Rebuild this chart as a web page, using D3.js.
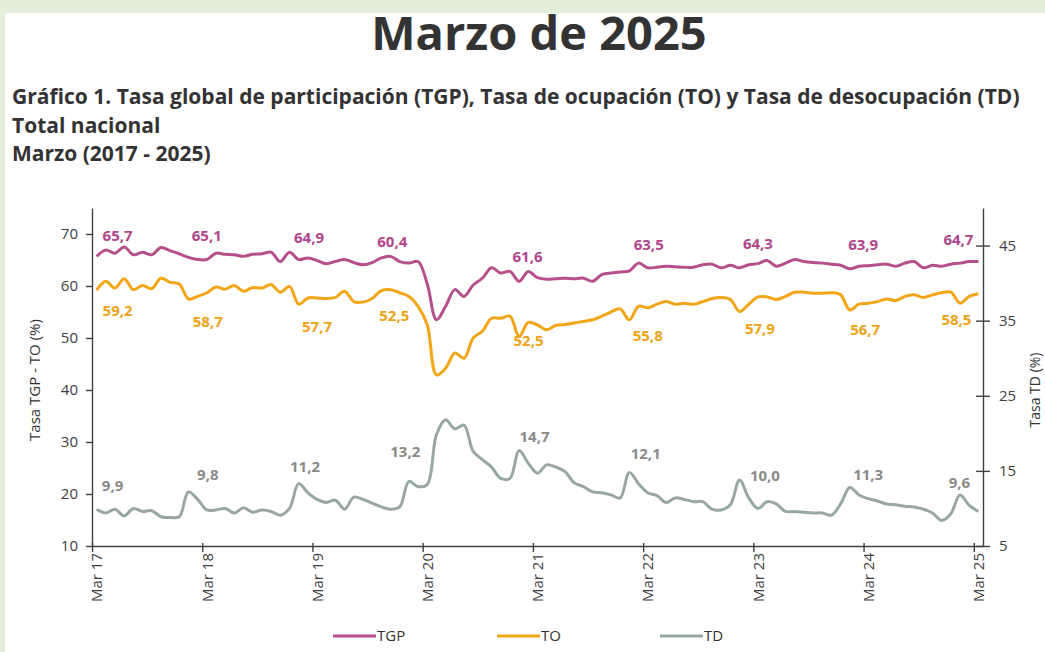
<!DOCTYPE html>
<html lang="es">
<head>
<meta charset="utf-8">
<script src="https://cdn.jsdelivr.net/npm/d3@7"></script>
<style>
  html, body { margin: 0; padding: 0; background: #fff; }
  svg { display: block; font-family: "Open Sans", "Noto Sans", sans-serif; }
</style>
</head>
<body>
<svg id="chart" width="1045" height="652"></svg>
<script>
// monthly series, Mar 2017 .. Mar 2025
const xTickLabels = ['Mar 17', 'Mar 18', 'Mar 19', 'Mar 20', 'Mar 21', 'Mar 22', 'Mar 23', 'Mar 24', 'Mar 25'];

const tgp = [
  65.7, 66.9, 66.3, 67.5, 66.0, 66.5, 66.0, 67.4, 66.8, 66.2, 65.5, 65.1,
  65.1, 66.3, 66.1, 66.0, 65.7, 66.1, 66.2, 66.5, 64.7, 66.5, 65.1, 65.4,
  64.9, 64.3, 64.7, 65.1, 64.5, 64.1, 64.5, 65.4, 65.7, 64.7, 64.4, 64.7,
  60.4, 53.5, 56.1, 59.3, 58.0, 60.2, 61.5, 63.5, 62.5, 62.8, 60.9, 62.8,
  61.6, 61.3, 61.4, 61.5, 61.4, 61.5, 60.9, 62.2, 62.5, 62.7, 62.9, 64.4,
  63.5, 63.6, 63.8, 63.7, 63.6, 63.6, 64.1, 64.2, 63.5, 64.0, 63.5, 64.1,
  64.3, 64.9, 63.8, 64.4, 65.1, 64.7, 64.5, 64.4, 64.2, 64.0, 63.3, 63.8,
  63.9, 64.1, 64.2, 63.8, 64.4, 64.7, 63.5, 64.0, 63.8, 64.2, 64.4, 64.7,
  64.7
];

const to = [
  59.2, 60.9, 59.6, 61.4, 59.3, 60.1, 59.5, 61.5, 60.7, 60.4, 57.5, 58.0,
  58.7, 59.8, 59.4, 60.1, 59.0, 59.7, 59.6, 60.3, 58.8, 59.9, 56.5, 57.7,
  57.7, 57.6, 57.8, 59.0, 57.0, 56.9, 57.6, 59.1, 59.3, 58.7, 58.0, 56.1,
  52.5, 42.9, 44.2, 47.1, 46.1, 50.0, 51.3, 53.8, 53.8, 54.2, 50.3, 53.0,
  52.5, 51.6, 52.4, 52.6, 52.9, 53.2, 53.5, 54.2, 55.0, 55.6, 53.5, 56.1,
  55.8, 56.5, 57.0, 56.5, 56.7, 56.5, 57.0, 57.6, 57.8, 57.4, 55.1, 56.5,
  57.9, 57.9, 57.4, 58.0, 58.8, 58.8, 58.6, 58.6, 58.7, 58.3, 55.4, 56.5,
  56.7, 57.0, 57.5, 57.2, 58.0, 58.3, 57.8, 58.3, 58.7, 58.8, 56.7, 58.0,
  58.5
];

const td = [
  9.9, 9.4, 9.9, 9.0, 10.0, 9.6, 9.7, 8.9, 8.8, 8.9, 12.2, 11.2,
  9.8, 9.8, 10.0, 9.4, 10.1, 9.5, 9.8, 9.6, 9.1, 10.0, 13.3, 12.1,
  11.2, 10.8, 11.1, 9.9, 11.5, 11.2, 10.7, 10.2, 9.9, 10.2, 13.6, 12.9,
  13.2, 19.8, 21.8, 20.6, 21.1, 17.6, 16.5, 15.5, 14.0, 14.0, 17.7, 16.0,
  14.7, 15.8, 15.5, 14.9, 13.4, 12.9, 12.2, 12.1, 11.8, 11.4, 14.8, 13.3,
  12.1, 11.7, 10.8, 11.4, 11.2, 10.9, 10.9, 9.9, 9.8, 10.5, 13.8, 11.4,
  10.0, 10.9, 10.6, 9.6, 9.6, 9.5, 9.4, 9.4, 9.1, 10.6, 12.8, 11.8,
  11.3, 11.0, 10.6, 10.5, 10.3, 10.2, 9.9, 9.4, 8.4, 9.3, 11.8, 10.4,
  9.6
];

const leftTicks = [10, 20, 30, 40, 50, 60, 70];
const rightTicks = [5, 15, 25, 35, 45];
const labelStep = 12;

const svg = d3.select('#chart');
const W = 1045, H = 652;
const plot = { left: 92, right: 983, top: 208, bottom: 546 };
const axisColor = '#404040';
const textColor = '#333333';

// page frame
svg.append('rect').attr('width', W).attr('height', H).attr('fill', '#ffffff');
svg.append('rect').attr('width', W).attr('height', 13).attr('fill', '#e2efda');
svg.append('rect').attr('width', 5).attr('height', H).attr('fill', '#e2efda');

svg.append('text')
  .attr('x', 539).attr('y', 50)
  .attr('text-anchor', 'middle')
  .attr('font-size', 47).attr('font-weight', 700)
  .attr('fill', textColor)
  .text('Marzo de 2025');

const subLines = [
  'Gráfico 1. Tasa global de participación (TGP), Tasa de ocupación (TO) y Tasa de desocupación (TD)',
  'Total nacional',
  'Marzo (2017 - 2025)'
];
subLines.forEach((s, k) => {
  svg.append('text')
    .attr('x', 12).attr('y', 104 + k * 28.5)
    .attr('font-size', 21).attr('font-weight', 700)
    .attr('fill', textColor)
    .text(s);
});

// scales
const n = tgp.length;
const xb = d3.scaleBand().domain(d3.range(n)).range([plot.left, plot.right]);
const bw = xb.bandwidth();
const cx = i => xb(i) + bw / 2;
const xt = d3.scaleLinear().domain([0, n]).range([plot.left, plot.right]);
const yL = d3.scaleLinear().domain([10, 75]).range([plot.bottom, plot.top]);
const yR = d3.scaleLinear().domain([5, 50]).range([plot.bottom, plot.top]);

function styleAxis(g) {
  g.select('.domain').attr('stroke', axisColor).attr('stroke-width', 1.4);
  g.selectAll('.tick line').attr('stroke', axisColor).attr('stroke-width', 1.4);
  g.selectAll('.tick text').attr('fill', '#404040').attr('font-size', 15)
    .attr('font-family', '"Open Sans", "Noto Sans", sans-serif');
}

const gL = svg.append('g')
  .attr('transform', `translate(${plot.left},0)`)
  .call(d3.axisLeft(yL).tickValues(leftTicks).tickSize(6).tickSizeOuter(0).tickPadding(8));
styleAxis(gL);

const gR = svg.append('g')
  .attr('transform', `translate(${plot.right},0)`)
  .call(d3.axisRight(yR).tickValues(rightTicks).tickSize(7).tickSizeOuter(0).tickPadding(9));
styleAxis(gR);
gR.selectAll('.tick line').attr('x1', -7).attr('x2', 7);

const xTickIdx = xTickLabels.map((_, k) => k * labelStep);
const gX = svg.append('g')
  .attr('transform', `translate(0,${plot.bottom})`)
  .call(d3.axisBottom(xt).tickValues(xTickIdx).tickFormat((d, k) => xTickLabels[k]).tickSizeOuter(0));
styleAxis(gX);
gX.selectAll('.tick line').attr('y1', -3).attr('y2', 6);
gX.selectAll('.tick text')
  .attr('transform', 'rotate(-90)')
  .attr('x', -7).attr('y', bw / 2).attr('dy', '0.35em')
  .style('text-anchor', 'end');

// axis titles
svg.append('text')
  .attr('transform', 'translate(40,380) rotate(-90)')
  .attr('text-anchor', 'middle')
  .attr('font-size', 15).attr('fill', textColor)
  .text('Tasa TGP - TO (%)');
svg.append('text')
  .attr('transform', 'translate(1040,390) rotate(-90)')
  .attr('text-anchor', 'middle')
  .attr('font-size', 14).attr('fill', textColor)
  .text('Tasa TD (%)');

// series
const series = [
  { name: 'TGP', values: tgp, y: yL, color: '#b5508a', labelColor: '#b0468a',
    offsets: [[21, -21], [0, -24], [-8, -23], [-35, -42], [-10, -21], [1, -23], [0, -20], [-5, -21], [-20, -22]] },
  { name: 'TO', values: to, y: yL, color: '#f2a516', labelColor: '#eea314',
    offsets: [[21, 21], [1, 29], [0, 29], [-33, -9], [-9, 16], [0, 28], [2, 32], [-3, 27], [-22, 26]] },
  { name: 'TD', values: td, y: yR, color: '#97a8a3', labelColor: '#8a8a8a',
    offsets: [[16, -23], [1, -35], [-12, -33], [-22, -33], [-3, -36], [-2, -39], [7, -33], [0, -24], [-19, -29]] }
];

const fmt = v => d3.format('.1f')(v).replace('.', ',');

series.forEach(s => {
  const line = d3.line()
    .x((d, i) => cx(i))
    .y(d => s.y(d))
    .curve(d3.curveCatmullRom.alpha(0.5));

  svg.append('path')
    .datum(s.values)
    .attr('d', line)
    .attr('fill', 'none')
    .attr('stroke', s.color)
    .attr('stroke-width', 3)
    .attr('stroke-linejoin', 'round');

  xTickIdx.forEach((i, k) => {
    const [dx, dy] = s.offsets[k];
    svg.append('text')
      .attr('x', cx(i) + dx)
      .attr('y', s.y(s.values[i]) + dy)
      .attr('dy', '0.35em')
      .attr('text-anchor', 'middle')
      .attr('font-size', 15).attr('font-weight', 700)
      .attr('fill', s.labelColor)
      .text(fmt(s.values[i]));
  });
});

// legend
const legendPos = [333, 497, 660];
series.forEach((s, k) => {
  const x0 = legendPos[k];
  svg.append('line')
    .attr('x1', x0).attr('x2', x0 + 43)
    .attr('y1', 636).attr('y2', 636)
    .attr('stroke', s.color).attr('stroke-width', 3);
  svg.append('text')
    .attr('x', x0 + 44).attr('y', 636).attr('dy', '0.35em')
    .attr('font-size', 15).attr('fill', textColor)
    .text(s.name);
});
</script>
</body>
</html>
